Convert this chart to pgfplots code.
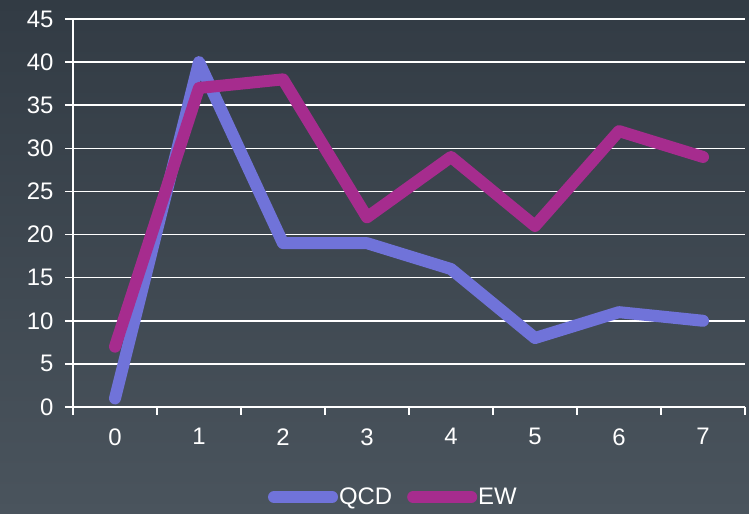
\documentclass[border=0pt]{standalone}
\usepackage{pgfplots}
\pgfplotsset{compat=1.18}
\usepackage{fontspec}
\setmainfont{Liberation Sans}
\definecolor{qcd}{HTML}{7073D9}
\definecolor{ew}{HTML}{A62C8E}
\definecolor{bgtop}{HTML}{323B44}
\definecolor{bgmid}{HTML}{343E47}
\definecolor{bgbot}{HTML}{4A545D}
\begin{document}
\begin{tikzpicture}
\shade[top color=bgtop, middle color=bgmid, bottom color=bgbot] (0,0) rectangle (749bp,514bp);
\useasboundingbox (0,0) rectangle (749bp,514bp);
\begin{axis}[
  at={(73bp,107bp)}, anchor=south west,
  scale only axis, width=672bp, height=388bp,
  xmin=-0.5, xmax=7.5, ymin=0, ymax=45,
  xtick={0,...,7}, major x tick style={draw=none},
  minor xtick={-0.5,0.5,...,7.5},
  ytick={0,5,...,45},
  axis x line*=bottom, axis y line*=left,
  axis line style={white, line width=1.5bp, -},
  tick style={white, line width=1.5bp},
  tick align=outside,
  major tick length=8bp, minor tick length=8bp,
  ymajorgrids, grid style={white, line width=1.5bp},
  tick label style={white, font=\fontsize{24}{26}\selectfont},
  /pgf/number format/assume math mode=true,
  yticklabel style={xshift=-8bp},
  xticklabel style={yshift=-10bp},
  legend columns=2,
  legend style={at={(0.476,-0.232)}, anchor=center, draw=none, fill=none,
    text=white, font=\fontsize{24}{26}\selectfont, inner sep=0pt,
    /tikz/every odd column/.append style={column sep=0bp},
    /tikz/every even column/.append style={column sep=14bp},
    nodes={inner sep=1bp}},
  legend image code/.code={\draw[#1, line cap=round] (0bp,0bp) -- (58bp,0bp);},
  every axis plot/.append style={line width=12bp, line cap=round, line join=round, mark=none},
  clip=false,
]
\addplot[qcd] coordinates {(0,1) (1,40) (2,19) (3,19) (4,16) (5,8) (6,11) (7,10)};
\addlegendentry{QCD}
\addplot[ew] coordinates {(0,7) (1,37) (2,38) (3,22) (4,29) (5,21) (6,32) (7,29)};
\addlegendentry{EW}
\end{axis}
\end{tikzpicture}
\end{document}
